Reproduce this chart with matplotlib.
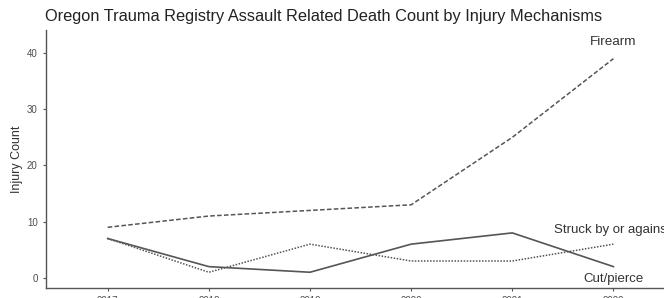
import matplotlib.pyplot as plt

plt.rcParams['font.family'] = ['Liberation Sans', 'DejaVu Sans']

years = [2017, 2018, 2019, 2020, 2021, 2022]
firearm = [9, 11, 12, 13, 25, 39]
struck = [7, 1, 6, 3, 3, 6]
cut_pierce = [7, 2, 1, 6, 8, 2]

line_col = '#555555'
axis_col = '#555555'
text_col = '#4d4d4d'

fig = plt.figure(figsize=(6.64, 2.98), dpi=100)
ax = fig.add_axes([0.0693, 0.0336, 0.9307, 0.8658])

ax.plot(years, firearm, color=line_col, lw=1.1, ls=(0, (3, 1.5)))
ax.plot(years, struck, color=line_col, lw=1.1, ls=(0, (1, 1)))
ax.plot(years, cut_pierce, color=line_col, lw=1.2, ls='-')

# end labels
ax.text(years[-1], 42, 'Firearm', ha='center', va='center', fontsize=9.7, color='#333333')
ax.text(2021.41, 8.6, 'Struck by or against', ha='left', va='center', fontsize=9.5,
        color='#333333', clip_on=True)
ax.text(years[-1], -0.2, 'Cut/pierce', ha='center', va='center', fontsize=9.5, color='#333333')

ax.set_xlim(2016.39, 2022.5)
ax.set_ylim(-1.8, 44.1)
ax.set_xticks(years)
ax.set_yticks([0, 10, 20, 30, 40])
ax.tick_params(colors=axis_col, labelcolor=text_col, labelsize=7, length=2.5, width=0.8)
ax.set_ylabel('Injury Count', fontsize=9, color='#333333', labelpad=3)

for side in ['top', 'right']:
    ax.spines[side].set_visible(False)
for side in ['left', 'bottom']:
    ax.spines[side].set_color(axis_col)
    ax.spines[side].set_linewidth(1.0)

fig.text(0.068, 0.945, 'Oregon Trauma Registry Assault Related Death Count by Injury Mechanisms',
         ha='left', va='center', fontsize=11.8, color='#222222')

fig.savefig('out.png', dpi=100)
